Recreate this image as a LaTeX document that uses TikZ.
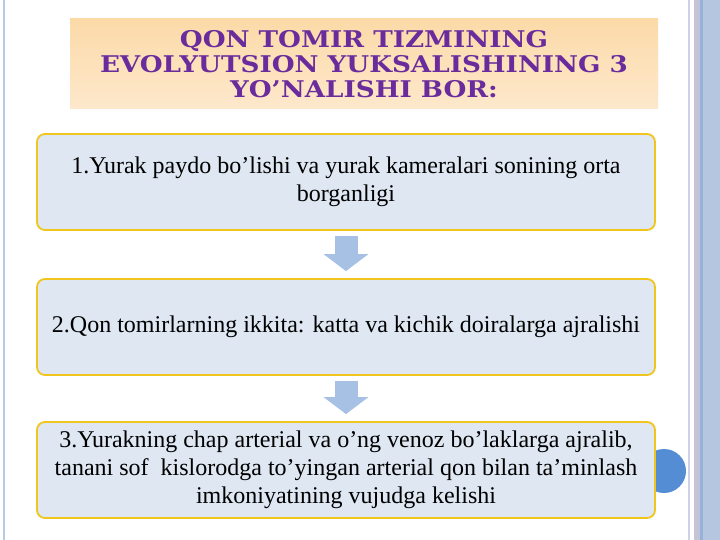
\documentclass[tikz,border=0pt]{standalone}
\usepackage{fontspec}
\setmainfont{Liberation Serif}
\newfontfamily\titlefont{DejaVu Serif}[FakeStretch=1.14]
\usepackage{tikz}
\usetikzlibrary{arrows.meta,positioning}
\usepackage{xcolor}
\definecolor{slideblue}{RGB}{222,231,242}
\definecolor{slidegold}{RGB}{240,198,30}
\definecolor{titlepurple}{RGB}{106,44,156}
\definecolor{titlepeach}{RGB}{252,218,168}
\definecolor{titlepeach2}{RGB}{253,232,204}
\definecolor{arrowblue}{RGB}{167,193,228}
\definecolor{edgeblue}{RGB}{184,202,226}
\definecolor{stripelav}{RGB}{205,210,232}
\definecolor{stripegray}{RGB}{196,196,214}
\definecolor{stripeblue}{RGB}{150,178,216}
\definecolor{sidebarblue}{RGB}{180,198,224}
\definecolor{circleblue}{RGB}{84,141,212}
\tikzstyle{stepbox} = [rectangle, rounded corners=8pt, minimum width=618pt, minimum height=96pt, text centered, align=center, draw=slidegold, fill=slideblue, line width=1.8pt, font=\fontsize{24}{28}\selectfont]
\tikzstyle{titlebox} = [rectangle, minimum width=588pt, minimum height=90pt, inner sep=0pt, align=center, top color=titlepeach, bottom color=titlepeach2, text=titlepurple, font=\titlefont\bfseries\fontsize{23}{25}\selectfont]
\tikzstyle{blockarrow} = [line width=23pt, draw=arrowblue, -{Triangle[width=44pt,length=17pt]}]

\begin{document}
\begin{tikzpicture}[x=1pt,y=-1pt]
% Slide background and side bars
\fill[white] (0,0) rectangle (720,540);
\useasboundingbox (0,0) rectangle (720,540);
\fill[edgeblue] (3,0) rectangle (5,540);
\fill[stripelav] (688,0) rectangle (690,540);
\fill[stripegray] (694,0) rectangle (700,540);
\fill[stripeblue] (700,0) rectangle (703,540);
\fill[sidebarblue] (703,0) rectangle (720,540);
\fill[circleblue] (664,471) circle (22);

% Title
\node (title) [titlebox] at (364,64) {QON TOMIR TIZMINING\\EVOLYUTSION YUKSALISHINING 3\\YO’NALISHI BOR:};

% Steps
\node (yurak) [stepbox] at (346,182) {1.Yurak paydo bo’lishi va yurak kameralari sonining orta\\borganligi};
\node (doira) [stepbox, below of=yurak, node distance=145pt] {2.Qon tomirlarning ikkita: katta va kichik doiralarga ajralishi};
\node (ajral) [stepbox, below of=doira, node distance=143pt] {3.Yurakning chap arterial va o’ng venoz bo’laklarga ajralib,\\tanani sof\ \ kislorodga to’yingan arterial qon bilan ta’minlash\\imkoniyatining vujudga kelishi};

% Arrows
\draw[blockarrow] ([yshift=-5pt]yurak.south) -- ([yshift=7pt]doira.north);
\draw[blockarrow] ([yshift=-5pt]doira.south) -- ([yshift=7pt]ajral.north);
\end{tikzpicture}
\end{document}
